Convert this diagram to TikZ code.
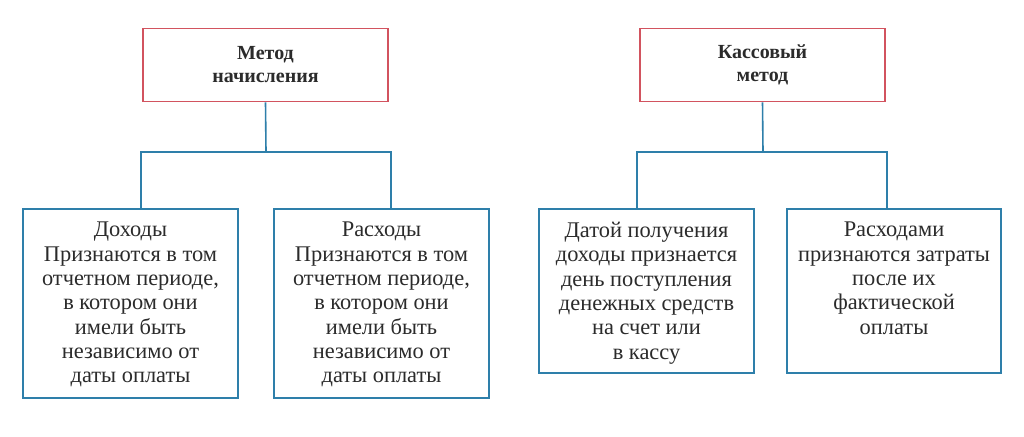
\documentclass[tikz,border=0pt]{standalone}
\usepackage{fontspec}
\setmainfont{Liberation Serif}
\definecolor{boxred}{HTML}{D2535F}
\definecolor{lineblue}{HTML}{2E7FAA}
\definecolor{txtgray}{HTML}{2B2B2B}
\begin{document}
\begin{tikzpicture}[x=1pt,y=-1pt,
  topbox/.style={draw=boxred,line width=1.6pt,fill=white,minimum width=245pt,minimum height=73pt,inner sep=0pt,
    align=center,text=txtgray,font=\fontsize{20}{23}\selectfont\bfseries},
  subbox/.style={draw=lineblue,line width=1.6pt,fill=white,minimum width=215pt,inner sep=0pt},
  subtext/.style={anchor=north,inner sep=0pt,align=center,text=txtgray,font=\fontsize{22.4}{24.3}\selectfont},
  conn/.style={draw=lineblue,line width=1.6pt}]
\useasboundingbox[fill=white] (0,0) rectangle (1024,436);
% top boxes
\node[topbox] (t1) at (265.5,65) {Метод\\начисления};
\node[topbox] (t2) at (762.5,65) {Кассовый\\метод};
% lower boxes
\node[subbox,minimum height=189pt] (b1) at (130.5,303.5) {};
\node[subbox,minimum height=189pt] (b2) at (381.5,303.5) {};
\node[subbox,minimum height=164pt] (b3) at (646.5,291) {};
\node[subbox,minimum height=164pt,minimum width=214pt] (b4) at (894,291) {};
% texts
\node[subtext] (x1) at (130.5,222) {Доходы\\Признаются в том\\отчетном периоде,\\в котором они\\имели быть\\независимо от\\даты оплаты};
\node[subtext] (x2) at (381.5,222) {Расходы\\Признаются в том\\отчетном периоде,\\в котором они\\имели быть\\независимо от\\даты оплаты};
\node[subtext] (x3) at (646.5,222) {Датой получения\\доходы признается\\день поступления\\денежных средств\\на счет или\\в кассу};
\node[subtext] (x4) at (894,222) {Расходами\\признаются затраты\\после их\\фактической\\оплаты};
% junction coordinates
\coordinate (j1) at (266,152);
\coordinate (j2) at (763,152);
\coordinate (d1) at (141,209);
\coordinate (d2) at (391,209);
\coordinate (d3) at (637,209);
\coordinate (d4) at (887,209);
% connectors
\draw[conn] (t1.south) -- (j1);
\draw[conn] (d1 |- b1.north) |- (j1) -| (d2 |- b2.north);
\draw[conn] (t2.south) -- (j2);
\draw[conn] (d3 |- b3.north) |- (j2) -| (d4 |- b4.north);
\end{tikzpicture}
\end{document}
